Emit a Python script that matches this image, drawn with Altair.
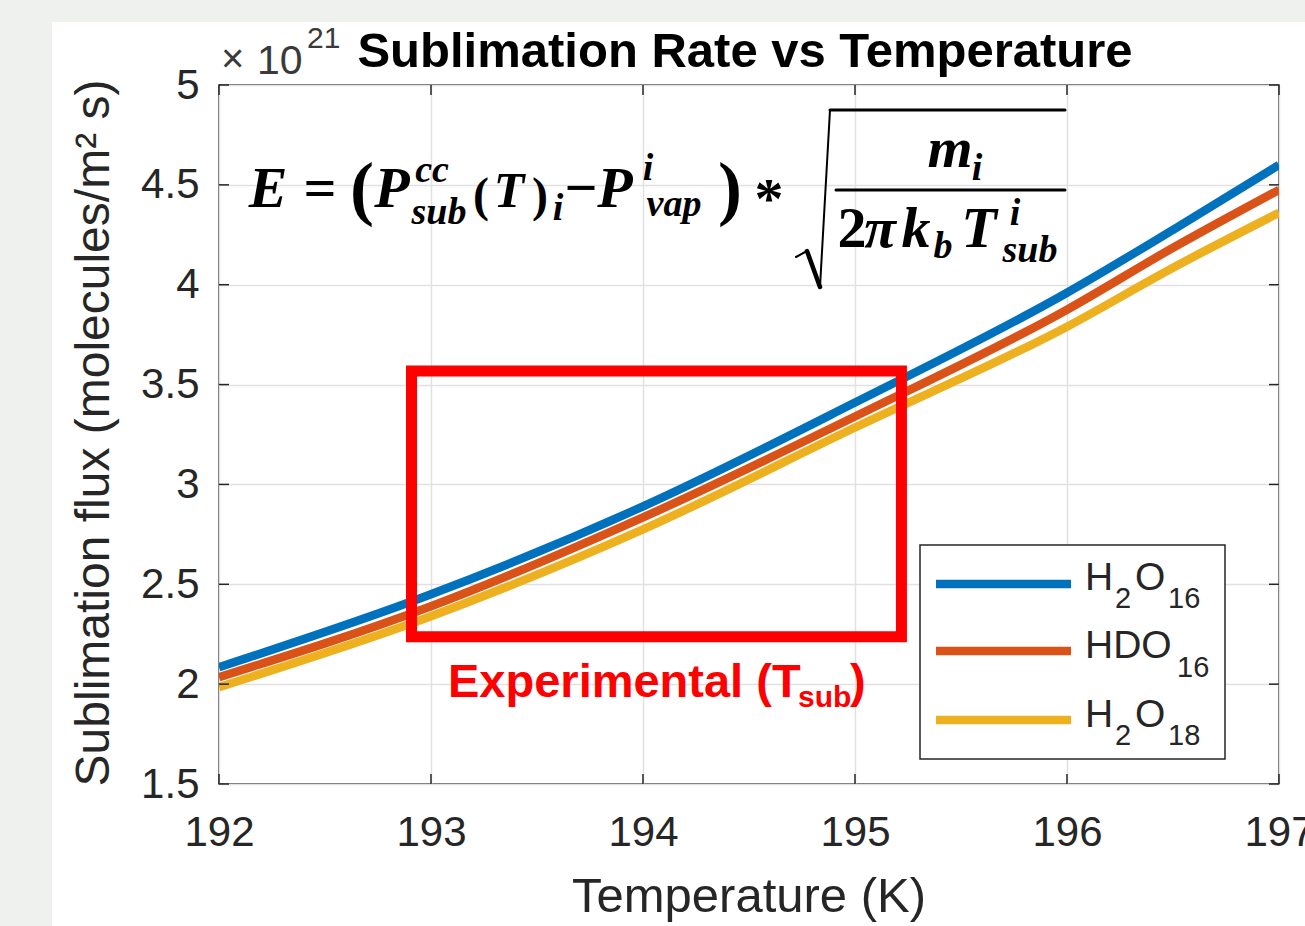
import altair as alt
import pandas as pd

# ---------------- data ----------------
temps = [192, 193, 194, 195, 196, 196.5, 197]
h2o16 = [2.085, 2.45, 2.89, 3.41, 3.96, 4.275, 4.60]
hdo16 = [2.035, 2.39, 2.835, 3.34, 3.875, 4.185, 4.475]
h2o18 = [1.985, 2.34, 2.775, 3.285, 3.79, 4.085, 4.36]
series = ["H2O16", "HDO16", "H2O18"]
colors = ["#0072BD", "#D95319", "#EDB120"]
x_ticks = [192, 193, 194, 195, 196, 197]
y_ticks = [1.5, 2, 2.5, 3, 3.5, 4, 4.5, 5]
box_t = [192.908, 195.219]
box_f = [2.2375, 3.5675]

# ---------------- layout ----------------
W, H = 1060, 699
OX, OY = 219, 85
INK = "#262626"

def px(x):
    return x - OX

def py(y):
    return y - OY

dummy = pd.DataFrame({"d": [0]})

xs = alt.Scale(domain=[192, 197], nice=False, zero=False)
ys = alt.Scale(domain=[1.5, 5], nice=False, zero=False)
axis_common = dict(title=None, ticks=False, tickSize=0, domain=False, grid=True,
                   gridColor="#e1e1e1", gridWidth=1.5, labelFont="Liberation Sans",
                   labelFontSize=42, labelColor=INK, labelOverlap=False,
                   labelFlush=False)
xaxis = alt.Axis(values=x_ticks, labelPadding=28, format="d", **axis_common)
yaxis = alt.Axis(values=y_ticks, labelPadding=20, format="~g", **axis_common)


def text(s, x, y, size, color="#000000", font="Liberation Sans", weight="normal",
         style="normal", align="left", angle=0):
    return alt.Chart(dummy).mark_text(
        text=s, font=font, fontSize=size, fontWeight=weight, fontStyle=style,
        color=color, align=align, baseline="alphabetic", angle=angle
    ).encode(x=alt.value(px(x)), y=alt.value(py(y)))


def seg(x1, y1, x2, y2, w, color="#000000"):
    return alt.Chart(dummy).mark_rule(color=color, strokeWidth=w, strokeCap="round").encode(
        x=alt.value(px(x1)), x2=alt.value(px(x2)), y=alt.value(py(y1)), y2=alt.value(py(y2))
    )


def rect(x1, y1, x2, y2, fill, stroke=None, sw=0):
    kw = dict(fill=fill)
    if stroke:
        kw.update(stroke=stroke, strokeWidth=sw)
    return alt.Chart(dummy).mark_rect(**kw).encode(
        x=alt.value(px(x1)), x2=alt.value(px(x2)), y=alt.value(py(y1)), y2=alt.value(py(y2))
    )


layers = []

# figure background strips
layers.append(rect(0, 0, 52, 926, "#eff1ee"))
layers.append(rect(0, 0, 1305, 22, "#eff1ee"))

# curves
df = pd.DataFrame({
    "T": temps * 3,
    "F": h2o16 + hdo16 + h2o18,
    "s": [s for s in series for _ in temps],
})
lines = alt.Chart(df).mark_line(strokeWidth=8.5, interpolate="monotone", clip=True).encode(
    x=alt.X("T:Q", scale=xs, axis=xaxis),
    y=alt.Y("F:Q", scale=ys, axis=yaxis),
    color=alt.Color("s:N", scale=alt.Scale(domain=series, range=colors), legend=None),
)
layers.append(lines)

# red experimental box
bdf = pd.DataFrame({"x0": [box_t[0]], "x1": [box_t[1]], "y0": [box_f[0]], "y1": [box_f[1]]})
layers.append(alt.Chart(bdf).mark_rect(fillOpacity=0, stroke="#ff0000", strokeWidth=11,
                                       strokeJoin="miter").encode(
    x=alt.X("x0:Q", scale=xs, axis=xaxis), x2="x1",
    y=alt.Y("y0:Q", scale=ys, axis=yaxis), y2="y1",
))

# Experimental (T_sub)
layers.append(text("Experimental (T", 448, 697, 47, color="#ff0000", weight="bold"))
layers.append(text("sub", 798, 707, 30, color="#ff0000", weight="bold"))
layers.append(text(")", 850, 697, 47, color="#ff0000", weight="bold"))

# formula
formula = [
    ("E", 268, 207, 58, True),
    ("=", 320, 207, 58, False),
    ("(", 362, 212, 72, False),
    ("P", 392, 207, 58, True),
    ("cc", 432, 182, 38, True),
    ("sub", 439, 224, 38, True),
    ("(", 481, 211, 48, False),
    ("T", 509, 207, 50, True),
    (")", 540, 211, 48, False),
    ("i", 558, 220, 38, True),
    ("\u2212", 581, 207, 58, False),
    ("P", 615, 207, 58, True),
    ("i", 648, 180, 38, True),
    ("vap", 674, 216, 38, True),
    (")", 730, 212, 72, False),
    ("*", 769, 218, 58, False),
    ("m", 950, 167, 58, True),
    ("i", 977, 180, 38, True),
    ("2", 852, 247, 58, False),
    ("\u03c0", 880, 247, 58, True),
    ("k", 916, 247, 58, True),
    ("b", 943, 258, 38, True),
    ("T", 979, 247, 58, True),
    ("i", 1015, 225, 38, True),
    ("sub", 1030, 262, 38, True),
]
for s, cx, by, size, ital in formula:
    layers.append(text(s, cx, by, size, font="Liberation Serif", weight="bold",
                       style="italic" if ital else "normal", align="center"))
# radical and fraction bar
layers.append(seg(796, 257, 807, 251, 2))
layers.append(seg(807, 251, 820, 287, 4.5))
layers.append(seg(820, 287, 830, 110, 2))
layers.append(seg(830, 110, 1065, 110, 3))
layers.append(seg(836, 190, 1065, 190, 3))

# legend
layers.append(rect(920, 545, 1225, 759, "#ffffff", stroke=INK, sw=1.5))
for yy, c in zip([584, 651, 720], colors):
    layers.append(alt.Chart(dummy).mark_rule(color=c, strokeWidth=8.5).encode(
        x=alt.value(px(936)), x2=alt.value(px(1071)), y=alt.value(py(yy))))
legend_txt = [
    ("H", 1085, 590, 39), ("2", 1115, 608, 29), ("O", 1135, 590, 39), ("16", 1168, 608, 29),
    ("HDO", 1085, 658, 39), ("16", 1177, 677, 29),
    ("H", 1085, 727, 39), ("2", 1115, 745, 29), ("O", 1135, 727, 39), ("18", 1168, 745, 29),
]
for s, x, y, size in legend_txt:
    layers.append(text(s, x, y, size, color=INK))

# inside ticks on all four sides
xt = pd.DataFrame({"t": x_ticks})
yt = pd.DataFrame({"t": y_ticks})
for y1, y2 in [(H, H - 10), (0, 10)]:
    layers.append(alt.Chart(xt).mark_rule(color=INK, strokeWidth=1.5).encode(
        x=alt.X("t:Q", scale=xs, axis=xaxis), y=alt.value(y1), y2=alt.value(y2)))
for x1, x2 in [(0, 10), (W, W - 10)]:
    layers.append(alt.Chart(yt).mark_rule(color=INK, strokeWidth=1.5).encode(
        y=alt.Y("t:Q", scale=ys, axis=yaxis), x=alt.value(x1), x2=alt.value(x2)))

# titles
layers.append(text("Sublimation Rate vs Temperature", 745, 67, 49, weight="bold", align="center"))
layers.append(text("\u00d7", 221, 72, 40, color="#3a3a3a"))
layers.append(text("10", 257, 74, 41, color="#3a3a3a"))
layers.append(text("21", 307, 48, 30, color="#3a3a3a"))
layers.append(text("Temperature (K)", 749, 912, 49, color=INK, align="center"))
layers.append(text("Sublimation flux (molecules/m\u00b2 s)", 109, 433, 48, color=INK,
                   align="center", angle=270))

chart = alt.layer(*layers).properties(
    width=W, height=H, background="#ffffff",
    padding={"left": OX, "top": OY, "right": 1305 - OX - W, "bottom": 926 - OY - H},
    autosize=alt.AutoSizeParams(type="none"),
).configure_view(stroke="#333333", strokeWidth=1.5)

chart.save("out.html", embed_options={"renderer": "svg", "actions": False})
